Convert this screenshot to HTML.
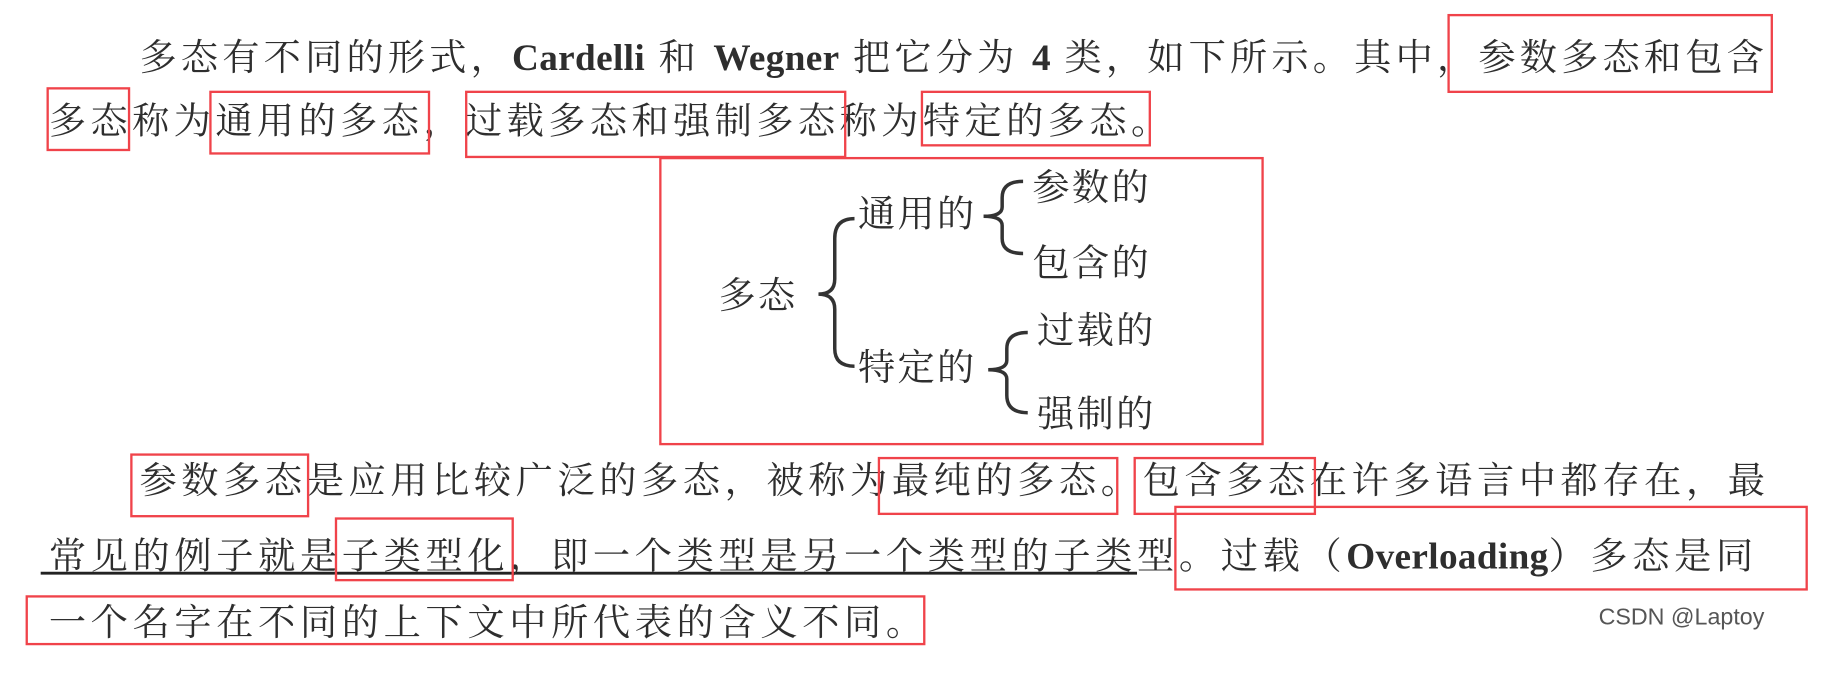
<!DOCTYPE html>
<html><head><meta charset="utf-8"><style>
html,body{margin:0;padding:0;background:#fff;width:1823px;height:673px;overflow:hidden}
#w{position:absolute;left:0;top:0;width:1568px;height:579px;transform:scale(1.1626);transform-origin:0 0;font-family:"Liberation Serif","Noto Serif CJK SC",serif;color:#2e2e2e}
.t{position:absolute;font-size:32px;line-height:32px;white-space:nowrap;letter-spacing:3.5px}
.d{letter-spacing:2px}
.b{position:absolute;border:2.5px solid #f0434a;box-sizing:border-box}
b{font-weight:bold;letter-spacing:0.3px}
.wm{position:absolute;left:1375px;top:520px;font-family:"Liberation Sans",sans-serif;font-size:20px;color:#555}
svg{position:absolute;left:0;top:0}
</style></head><body><div id="w">
<div class="t" style="left:120px;top:33px;letter-spacing:3.6px">多态有不同的形式，<b>Cardelli</b> 和 <b>Wegner</b> 把它分为 <b>4</b> 类，如下所示。其中，参数多态和包含</div>
<div class="t" style="left:42px;top:88px;letter-spacing:3.8px">多态称为通用的多态，过载多态和强制多态称为特定的多态。</div>
<div class="t d" style="left:618px;top:238px">多态</div>
<div class="t d" style="left:738px;top:168px">通用的</div>
<div class="t d" style="left:738px;top:300px">特定的</div>
<div class="t d" style="left:888px;top:145px">参数的</div>
<div class="t d" style="left:888px;top:210px">包含的</div>
<div class="t d" style="left:892px;top:268px">过载的</div>
<div class="t d" style="left:892px;top:340px">强制的</div>
<svg width="1568" height="579" fill="none" stroke="#333" stroke-width="3">
<path d="M735 188 Q718 188 718 205 L718 240 Q718 253 704 253 Q718 253 718 266 L718 300 Q718 315 735 315"/>
<path d="M880 156 Q862 156 862 170 L862 178 Q862 186 846 186 Q862 186 862 194 L862 205 Q862 218 880 218"/>
<path d="M884 286 Q866 286 866 300 L866 310 Q866 318 850 318 Q866 318 866 326 L866 340 Q866 355 884 355"/>
<line x1="35" y1="493" x2="978" y2="493" stroke="#222" stroke-width="2.5"/>
</svg>
<div class="t" style="left:120px;top:397px;letter-spacing:3.95px">参数多态是应用比较广泛的多态，被称为最纯的多态。包含多态在许多语言中都存在，最</div>
<div class="t" style="left:42px;top:462px;letter-spacing:4.0px">常见的例子就是子类型化，即一个类型是另一个类型的子类型。过载（<b>Overloading</b>）多态是同</div>
<div class="t" style="left:42px;top:519px;letter-spacing:4.0px">一个名字在不同的上下文中所代表的含义不同。</div>
<div class="b" style="left:1245px;top:12px;width:280px;height:68px"></div>
<div class="b" style="left:40px;top:75px;width:72px;height:55px"></div>
<div class="b" style="left:180px;top:78px;width:190px;height:55px"></div>
<div class="b" style="left:400px;top:78px;width:328px;height:58px"></div>
<div class="b" style="left:792px;top:78px;width:198px;height:48px"></div>
<div class="b" style="left:567px;top:135px;width:520px;height:248px"></div>
<div class="b" style="left:112px;top:390px;width:154px;height:55px"></div>
<div class="b" style="left:755px;top:393px;width:207px;height:50px"></div>
<div class="b" style="left:975px;top:393px;width:157px;height:50px"></div>
<div class="b" style="left:288px;top:445px;width:154px;height:55px"></div>
<div class="b" style="left:1010px;top:435px;width:545px;height:73px"></div>
<div class="b" style="left:22px;top:512px;width:774px;height:43px"></div>
<div class="wm">CSDN @Laptoy</div>
</div></body></html>
